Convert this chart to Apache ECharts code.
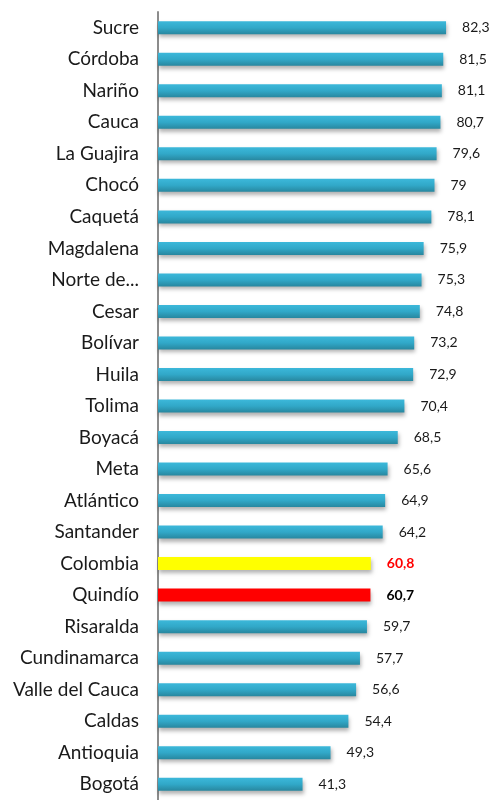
<!DOCTYPE html>
<html>
<head>
<meta charset="utf-8">
<script src="https://cdn.jsdelivr.net/npm/echarts@6/dist/echarts.min.js"></script>
<style>
  html, body { margin: 0; padding: 0; background: #fff; }
  #chart { width: 491px; height: 800px; }
</style>
</head>
<body>
<div id="chart"></div>
<script>
// departamentos, de arriba hacia abajo
const departamentos = [
  "Sucre", "Córdoba", "Nariño", "Cauca", "La Guajira", "Chocó", "Caquetá",
  "Magdalena", "Norte de...", "Cesar", "Bolívar", "Huila", "Tolima", "Boyacá",
  "Meta", "Atlántico", "Santander", "Colombia", "Quindío", "Risaralda",
  "Cundinamarca", "Valle del Cauca", "Caldas", "Antioquia", "Bogotá"
];
const valores = [
  82.3, 81.5, 81.1, 80.7, 79.6, 79, 78.1, 75.9, 75.3, 74.8, 73.2, 72.9, 70.4,
  68.5, 65.6, 64.9, 64.2, 60.8, 60.7, 59.7, 57.7, 56.6, 54.4, 49.3, 41.3
];

const azul = new echarts.graphic.LinearGradient(0, 0, 0, 1, [
  { offset: 0, color: "#3cb8da" },
  { offset: 0.5, color: "#31a8c8" },
  { offset: 1, color: "#28879f" }
]);

const seriesData = departamentos.map((d, i) => {
  let item = { value: valores[i] };
  if (d === "Colombia") {
    item.itemStyle = { color: "#ffff00" };
    item.label = { color: "#ff0000", fontWeight: "bold" };
  } else if (d === "Quindío") {
    item.itemStyle = { color: "#ff0000" };
    item.label = { color: "#000", fontWeight: "bold" };
  }
  return item;
});

const chart = echarts.init(document.getElementById("chart"));
chart.setOption({
  animation: false,
  grid: { left: 158, right: 18, top: 12, height: 794 },
  xAxis: {
    type: "value",
    min: 0,
    max: 90,
    show: false
  },
  yAxis: {
    type: "category",
    inverse: true,
    data: departamentos,
    axisLine: { lineStyle: { color: "#8c8c8c", width: 2 } },
    axisTick: { length: 5, lineStyle: { color: "#8c8c8c", width: 2 } },
    axisLabel: {
      color: "#1a1a1a",
      fontFamily: "Lato",
      fontSize: 19,
      margin: 19
    }
  },
  series: [
    {
      type: "bar",
      data: seriesData,
      barWidth: 13,
      itemStyle: {
        color: azul,
        shadowColor: "rgba(0,0,0,0.3)",
        shadowBlur: 4,
        shadowOffsetY: 3,
        shadowOffsetX: 1
      },
      label: {
        show: true,
        position: "right",
        distance: 16,
        color: "#1a1a1a",
        fontFamily: "Lato",
        fontSize: 14,
        formatter: (p) => String(p.value).replace(".", ",")
      }
    }
  ]
});
</script>
</body>
</html>
